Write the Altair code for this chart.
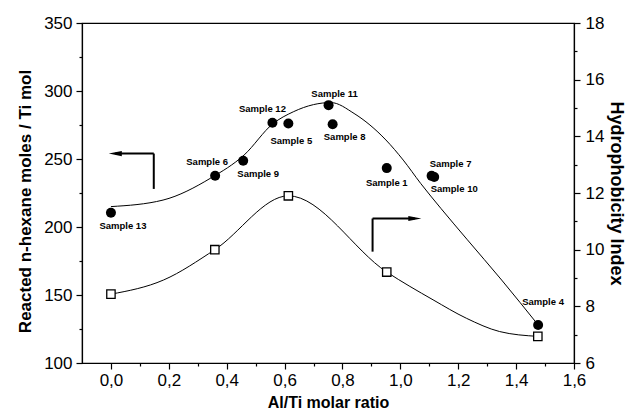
import altair as alt
import pandas as pd

FONT = "Liberation Sans"

# ---- data ----
samples = ["Sample 13", "Sample 6", "Sample 9", "Sample 12", "Sample 5", "Sample 11",
           "Sample 8", "Sample 1", "Sample 7", "Sample 10", "Sample 4"]
al_ti = [0.0, 0.36, 0.457, 0.558, 0.613, 0.752, 0.766, 0.953, 1.108, 1.117, 1.476]
hexane = [210.5, 237.7, 248.7, 276.6, 276.1, 289.6, 275.6, 243.3, 237.6, 236.8, 128.0]

# fitted curve through the hexane data (knots)
fit_x = [0.0, 0.18, 0.345, 0.46, 0.56, 0.63, 0.70, 0.76, 0.84, 0.95, 1.01, 1.07, 1.14, 1.23, 1.35, 1.476]
fit_y = [215, 219.8, 236.0, 252.9, 276.0, 284.7, 290.0, 291.5, 283.5, 264.0, 249.2, 232.1, 213.7, 191.0, 161.0, 128.0]

# hydrophobicity index series
hi_x = [0.0, 0.359, 0.613, 0.953, 1.475]
hi_y = [8.43, 10.0, 11.9, 9.21, 6.94]

# smooth curve through the hydrophobicity points (knots)
hic_x = [0.0, 0.182, 0.359, 0.613, 0.953, 1.113, 1.228, 1.343, 1.475]
hic_y = [8.43, 8.93, 10.0, 11.9, 9.21, 8.23, 7.58, 7.11, 6.94]

# axis ticks
x_ticks = [round(i * 0.1, 1) for i in range(17)]
left_ticks = list(range(100, 351, 25))
right_ticks = list(range(6, 19))

# arrows (data coordinates)
larrow_x = [0.148, 0.0]
larrow_y = [228.0, 254.0]
rarrow_x = [0.904, 1.05]
rarrow_y = [9.93, 11.1]

label_offsets = {
    "Sample 13": (12, 13), "Sample 6": (-8, -14), "Sample 9": (15, 13),
    "Sample 12": (-10, -14), "Sample 5": (3, 17), "Sample 11": (6, -11),
    "Sample 8": (12, 13), "Sample 1": (0, 15), "Sample 7": (19, -12),
    "Sample 10": (20, 12), "Sample 4": (5, -23),
}

# ---- scales / axes ----
x_scale = alt.Scale(domain=[-0.1, 1.6], nice=False, zero=False)
left_scale = alt.Scale(domain=[100, 350], nice=False, zero=False)
right_scale = alt.Scale(domain=[6, 18], nice=False, zero=False)

common_axis = dict(labelFont=FONT, labelFontSize=17, labelColor="black",
                   titleFont=FONT, titleColor="black", tickColor="black",
                   domainColor="black", domainWidth=1.2, tickWidth=1.2,
                   grid=False, labelOverlap=False, labelFlush=False)

x_axis = alt.Axis(title="Al/Ti molar ratio", values=x_ticks,
                  labelExpr="round(datum.value*10) % 2 == 0 ? replace(format(datum.value, '.1f'), '.', ',') : ''",
                  tickSize={"condition": {"test": "round(datum.value*10) % 2 == 0", "value": 6}, "value": 3},
                  labelPadding=3, titleFontSize=16, titleFontWeight="bold", titlePadding=6,
                  **common_axis)
left_axis = alt.Axis(title="Reacted n-hexane moles / Ti mol", values=left_ticks,
                     labelExpr="datum.value % 50 == 0 ? format(datum.value, 'd') : ''",
                     tickSize={"condition": {"test": "datum.value % 50 == 0", "value": 6}, "value": 3},
                     labelPadding=4, titleFontSize=17, titleFontWeight="bold", titlePadding=9,
                     titleY=178,
                     **common_axis)
right_axis = alt.Axis(title="Hydrophobicity Index", orient="right", values=right_ticks,
                      labelExpr="datum.value % 2 == 0 ? format(datum.value, 'd') : ''",
                      tickSize={"condition": {"test": "datum.value % 2 == 0", "value": 6}, "value": 3},
                      labelPadding=5, titleFontSize=18, titleFontWeight="bold", titlePadding=3,
                      **common_axis)

X = lambda f="x": alt.X(f"{f}:Q", scale=x_scale, axis=x_axis)
YL = lambda f="y": alt.Y(f"{f}:Q", scale=left_scale, axis=left_axis)
YR = lambda f="y": alt.Y(f"{f}:Q", scale=right_scale, axis=right_axis)

pts = pd.DataFrame({"x": al_ti, "y": hexane, "label": samples})
fit = pd.DataFrame({"x": fit_x, "y": fit_y})
hi = pd.DataFrame({"x": hi_x, "y": hi_y})
hic = pd.DataFrame({"x": hic_x, "y": hic_y})

fit_line = alt.Chart(fit).mark_line(color="black", strokeWidth=1, interpolate="monotone").encode(x=X(), y=YL())
circles = alt.Chart(pts).mark_point(filled=True, color="black", opacity=1, size=100, shape="circle").encode(x=X(), y=YL())

labels = []
for s in samples:
    dx, dy = label_offsets[s]
    labels.append(
        alt.Chart(pts).transform_filter(alt.datum.label == s)
        .mark_text(font=FONT, fontSize=9.5, fontWeight="bold", color="black",
                   align="center", baseline="middle", dx=dx, dy=dy)
        .encode(x=X(), y=YL(), text="label:N")
    )

arrow_path_left = "M-1,0L1,-0.4L1,0.4Z"
arrow_path_right = "M1,0L-1,-0.4L-1,0.4Z"

la_v = alt.Chart(pd.DataFrame({"x": [larrow_x[0]], "y": [larrow_y[0]], "y2": [larrow_y[1]]})).mark_rule(
    color="black", strokeWidth=2).encode(x=X(), y=YL(), y2="y2:Q")
la_h = alt.Chart(pd.DataFrame({"x": [larrow_x[0]], "x2": [larrow_x[1] + 0.015], "y": [larrow_y[1]]})).mark_rule(
    color="black", strokeWidth=2).encode(x=X(), x2="x2:Q", y=YL())
la_head = alt.Chart(pd.DataFrame({"x": [larrow_x[1] + 0.015], "y": [larrow_y[1]]})).mark_point(
    shape=arrow_path_left, filled=True, color="black", opacity=1, size=170).encode(x=X(), y=YL())

left_layer = alt.layer(fit_line, circles, *labels, la_v, la_h, la_head)

hi_line = alt.Chart(hic).mark_line(color="black", strokeWidth=1, interpolate="monotone").encode(x=X(), y=YR())
squares = alt.Chart(hi).mark_point(shape="square", filled=True, fill="white", stroke="black",
                                   strokeWidth=1.3, opacity=1, size=70).encode(x=X(), y=YR())
ra_v = alt.Chart(pd.DataFrame({"x": [rarrow_x[0]], "y": [rarrow_y[0]], "y2": [rarrow_y[1]]})).mark_rule(
    color="black", strokeWidth=2).encode(x=X(), y=YR(), y2="y2:Q")
ra_h = alt.Chart(pd.DataFrame({"x": [rarrow_x[0]], "x2": [rarrow_x[1]], "y": [rarrow_y[1]]})).mark_rule(
    color="black", strokeWidth=2).encode(x=X(), x2="x2:Q", y=YR())
ra_head = alt.Chart(pd.DataFrame({"x": [rarrow_x[1]], "y": [rarrow_y[1]]})).mark_point(
    shape=arrow_path_right, filled=True, color="black", opacity=1, size=170).encode(x=X(), y=YR())

right_layer = alt.layer(hi_line, squares, ra_v, ra_h, ra_head)

chart = (
    alt.layer(left_layer, right_layer)
    .resolve_scale(y="independent")
    .properties(width=492, height=340, autosize="none",
                padding={"left": 82, "top": 23, "right": 57, "bottom": 49},
                background="white")
    .configure_view(stroke="black", strokeWidth=1.2)
)

chart.save("out.html", embed_options={"renderer": "svg", "actions": False})
